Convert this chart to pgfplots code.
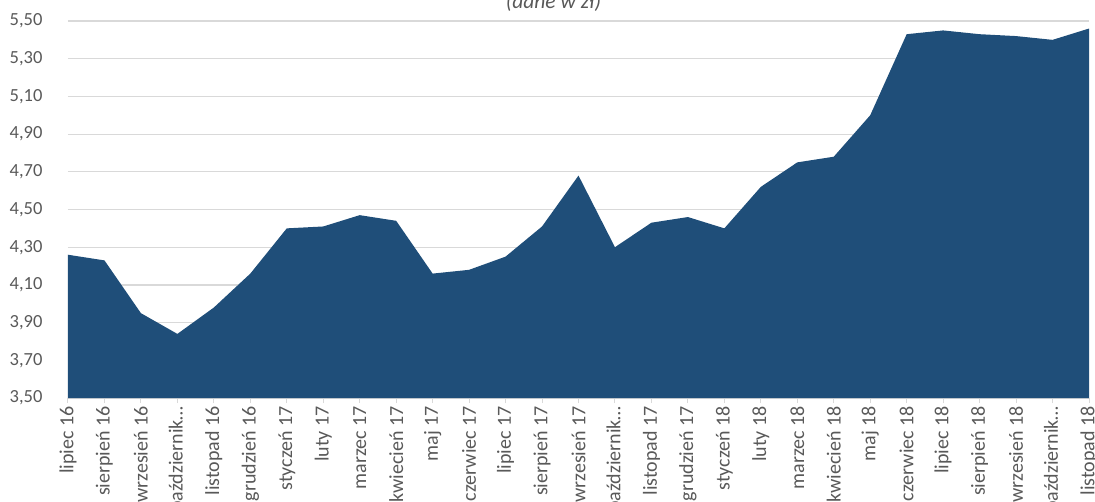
\documentclass[border=0pt]{standalone}
\usepackage{pgfplots}
\pgfplotsset{compat=1.18}
\usepackage{fontspec}
\setmainfont{Carlito}
\definecolor{areablue}{HTML}{1F4E79}
\definecolor{gridgrey}{HTML}{D9D9D9}
\definecolor{labgrey}{HTML}{595959}
\begin{document}
\begin{tikzpicture}
\begin{axis}[
  at={(0pt,0pt)}, anchor=south west,
  scale only axis,
  width=1021pt, height=377pt,
  xmin=0, xmax=28,
  ymin=3.5, ymax=5.5,
  ytick={3.5,3.7,3.9,4.1,4.3,4.5,4.7,4.9,5.1,5.3,5.5},
  xtick={0,...,28},
  xticklabels={lipiec 16, sierpień 16, wrzesień 16, październik…, listopad 16, grudzień 16, styczeń 17, luty 17, marzec 17, kwiecień 17, maj 17, czerwiec 17, lipiec 17, sierpień 17, wrzesień 17, październik…, listopad 17, grudzień 17, styczeń 18, luty 18, marzec 18, kwiecień 18, maj 18, czerwiec 18, lipiec 18, sierpień 18, wrzesień 18, październik…, listopad 18},
  /pgf/number format/.cd, fixed, fixed zerofill, precision=2, use comma, assume math mode=true,
  /pgfplots/.cd,
  axis x line*=bottom,
  axis y line*=left,
  y axis line style={draw=none},
  x axis line style={draw=gridgrey, line width=1.2pt},
  ymajorgrids,
  grid style={draw=gridgrey, line width=1.2pt},
  ytick style={draw=none},
  xtick style={draw=gridgrey, line width=1pt},
  tick align=outside,
  major tick length=5pt,
  ticklabel style={text=labgrey},
  xticklabel style={rotate=90, anchor=east, font=\fontsize{20}{22}\selectfont, inner sep=3pt},
  yticklabel style={font=\fontsize{18.5}{21}\selectfont, xshift=-17pt},
  clip=true,
]
\addplot[fill=areablue, draw=none] coordinates {
(0,4.26) (1,4.23) (2,3.95) (3,3.84) (4,3.98) (5,4.16) (6,4.40) (7,4.41) (8,4.47) (9,4.44)
(10,4.16) (11,4.18) (12,4.25) (13,4.41) (14,4.68) (15,4.30) (16,4.43) (17,4.46) (18,4.40)
(19,4.62) (20,4.75) (21,4.78) (22,5.00) (23,5.43) (24,5.45) (25,5.43) (26,5.42) (27,5.40) (28,5.46)
} \closedcycle;
\end{axis}
\node[anchor=base, font=\itshape\fontsize{21.5}{24}\selectfont, text=labgrey] at (485.5pt,389pt) {(dane w zł)};
\pgfresetboundingbox
\path[use as bounding box] (-68pt,-103pt) rectangle (1027pt,398pt);
\end{tikzpicture}
\end{document}
